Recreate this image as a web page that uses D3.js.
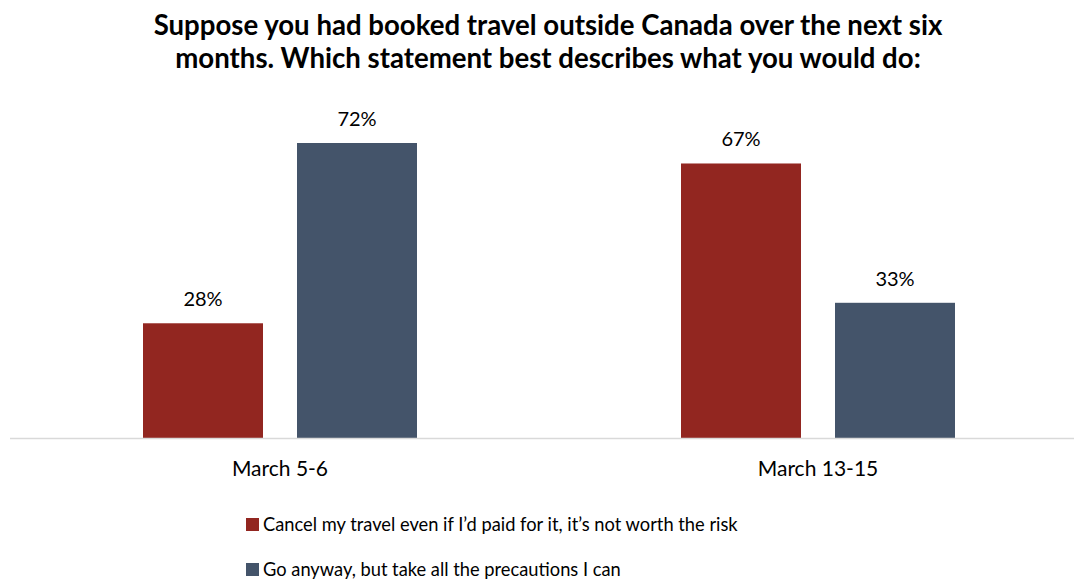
<!DOCTYPE html>
<html>
<head>
<meta charset="utf-8">
<script src="https://cdn.jsdelivr.net/npm/d3@7"></script>
<style>
  body { margin: 0; background: #fff; }
  text { font-family: Lato, "Open Sans", sans-serif; fill: #000; }
</style>
</head>
<body>
<div id="chart"></div>
<script>
// data
var categories = ["March 5-6", "March 13-15"];
var seriesNames = ["Cancel my travel even if I\u2019d paid for it, it\u2019s not worth the risk",
                   "Go anyway, but take all the precautions I can"];
var cancelValues = [28, 67];
var goValues = [72, 33];
var titleLines = ["Suppose you had booked travel outside Canada over the next six",
                  "months. Which statement best describes what you would do:"];

var colors = ["#922620", "#44546a"];

var width = 1074, height = 580;
var baseY = 438;

var svg = d3.select("#chart").append("svg")
    .attr("width", width)
    .attr("height", height);

// title
svg.selectAll(".title")
    .data(titleLines)
    .enter()
    .append("text")
    .attr("class", "title")
    .attr("x", 548)
    .attr("y", (d, i) => 35 + i * 33)
    .attr("text-anchor", "middle")
    .style("font-weight", "bold")
    .style("font-size", "27.6px")
    .text(d => d);

// scales
var x0 = d3.scaleBand().domain(categories).range([11, 1087]);
var x1 = d3.scaleBand().domain([0, 1]).range([132, 406]).paddingInner(0.2208);
var y = d3.scaleLinear().domain([0, 72]).range([baseY, 143]);

var rows = categories.map((c, i) => ({cat: c, vals: [cancelValues[i], goValues[i]]}));

var groups = svg.selectAll(".group")
    .data(rows)
    .enter()
    .append("g")
    .attr("transform", d => "translate(" + x0(d.cat) + ",0)");

groups.selectAll("rect")
    .data(d => d.vals)
    .enter()
    .append("rect")
    .attr("x", (d, i) => x1(i))
    .attr("width", x1.bandwidth())
    .attr("y", d => y(d))
    .attr("height", d => baseY - y(d))
    .attr("fill", (d, i) => colors[i]);

groups.selectAll(".val")
    .data(d => d.vals)
    .enter()
    .append("text")
    .attr("class", "val")
    .attr("x", (d, i) => x1(i) + x1.bandwidth() / 2)
    .attr("y", d => y(d) - 17)
    .attr("text-anchor", "middle")
    .style("font-size", "20px")
    .text(d => d + "%");

// baseline
svg.append("line")
    .attr("x1", 10).attr("x2", width)
    .attr("y1", baseY + 0.5).attr("y2", baseY + 0.5)
    .attr("stroke", "#d9d9d9")
    .attr("stroke-width", 1.5);

// category labels
var xAxis = svg.append("g")
    .attr("transform", "translate(0," + baseY + ")")
    .call(d3.axisBottom(x0).tickSize(0).tickPadding(23));
xAxis.select(".domain").remove();
xAxis.selectAll("text")
    .attr("transform", "translate(" + (280 - (x0("March 5-6") + x0.bandwidth() / 2)) + ",0)")
    .style("font-family", "Lato, sans-serif")
    .style("font-size", "21px")
    .attr("fill", "#000");

// legend
var legend = svg.selectAll(".legend")
    .data(seriesNames)
    .enter()
    .append("g")
    .attr("transform", (d, i) => "translate(246," + (518 + i * 45) + ")");

legend.append("rect")
    .attr("width", 13)
    .attr("height", 13)
    .attr("fill", (d, i) => colors[i]);

legend.append("text")
    .attr("x", 17)
    .attr("y", 12.5)
    .style("font-size", "18.3px")
    .text(d => d);
</script>
</body>
</html>
